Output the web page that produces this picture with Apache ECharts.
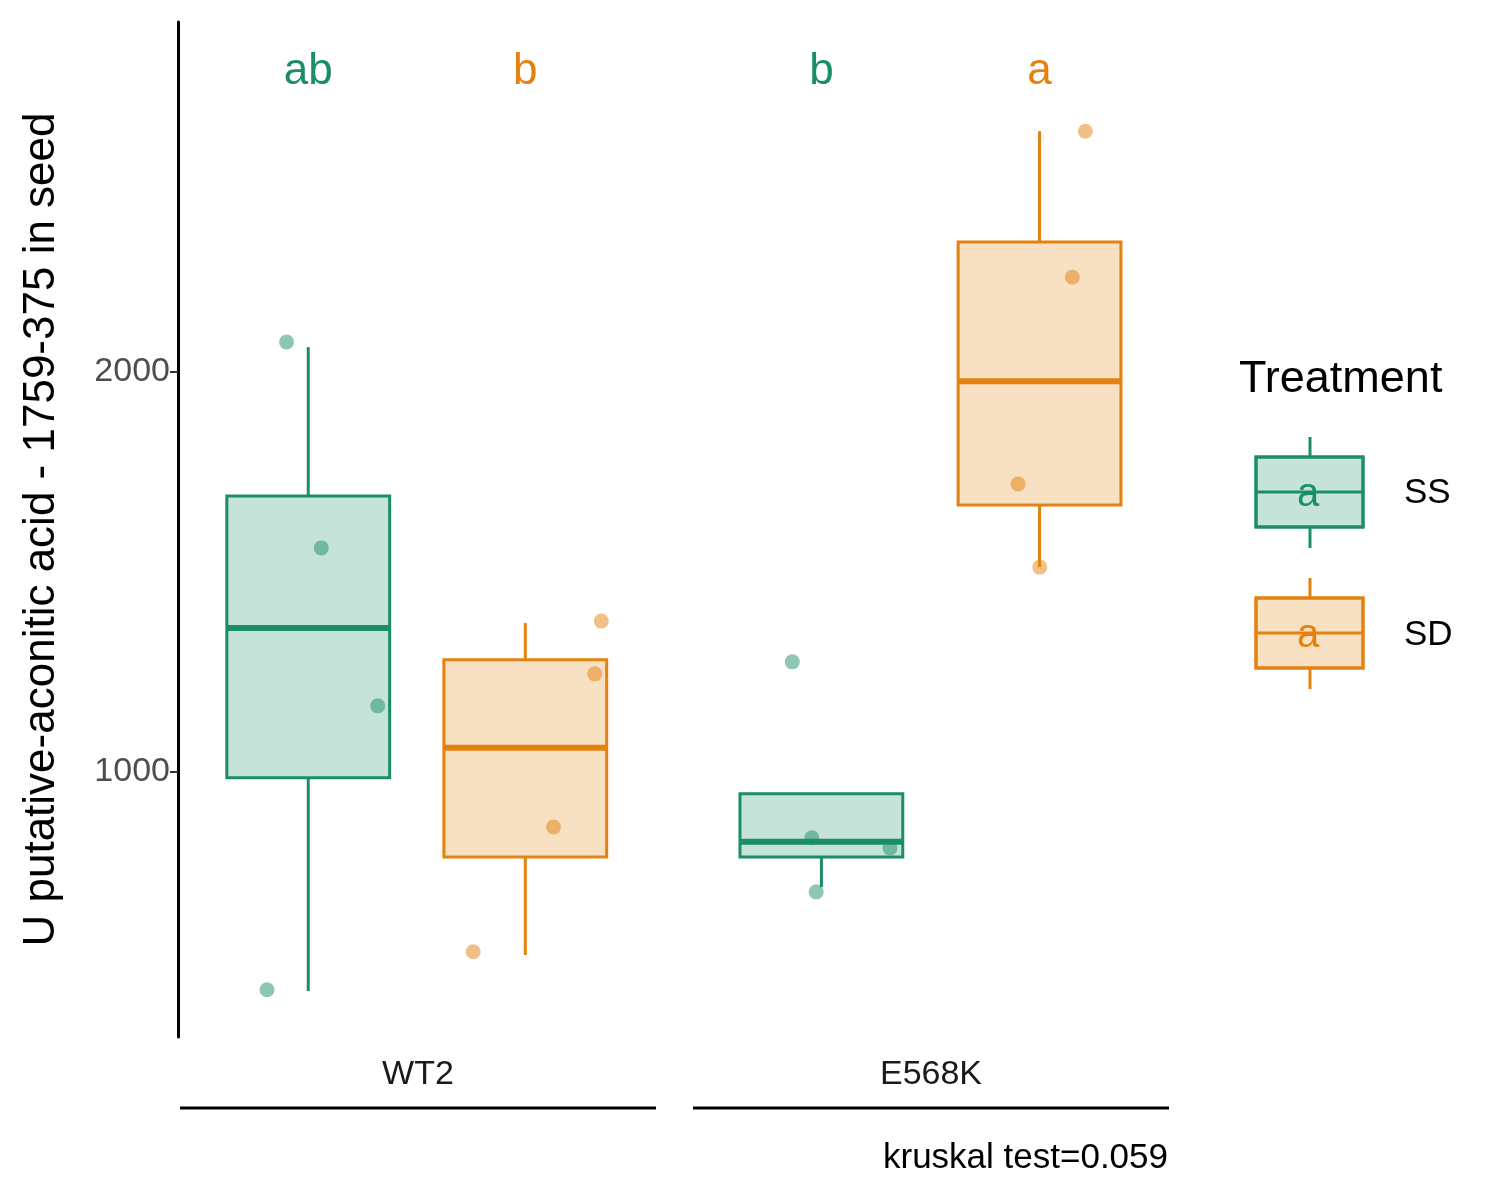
<!DOCTYPE html>
<html><head><meta charset="utf-8">
<script src="https://cdn.jsdelivr.net/npm/echarts@6/dist/echarts.min.js"></script>
<style>body{margin:0}#c{width:1500px;height:1200px}</style></head>
<body><div id="c"></div>
<script>
// box positions on x (value axis) and stats [low, q1, median, q3, high]
var boxX = [1, 2, 3.364, 4.369];
var boxTreat = ['SS', 'SD', 'SS', 'SD'];
var boxStats = [
  [452, 985, 1360, 1690, 2062],
  [542, 787, 1060, 1280, 1372],
  [712, 787, 825, 945, 945],
  [1512, 1667, 1977, 2325, 2602]
];
var ssPoints = [[0.90, 2075], [1.06, 1560], [1.32, 1165], [0.81, 455], [3.23, 1275], [3.32, 835], [3.68, 810], [3.34, 700]];
var sdPoints = [[2.35, 1377], [2.32, 1245], [2.13, 862], [1.76, 550], [4.58, 2602], [4.52, 2237], [4.27, 1720], [4.37, 1512]];
var letters = ['ab', 'b', 'b', 'a'];
var groups = ['WT2', 'E568K'];
var yTicks = [1000, 2000];

var col = {SS: '#1B8E67', SD: '#E3820F'};
var fill = {SS: 'rgba(27,142,103,0.25)', SD: 'rgba(227,130,15,0.25)'};
var FF = 'Liberation Sans';

var boxData = boxX.map(function (x, i) { return [x].concat(boxStats[i]).concat([i]); });

var chart = echarts.init(document.getElementById('c'));
chart.setOption({
  animation: false,
  grid: {left: 178, right: 330, top: 22, bottom: 163},
  xAxis: {type: 'value', min: 0.4, max: 4.97, show: false},
  yAxis: {
    type: 'value', min: 337, max: 2875,
    axisLine: {show: true, lineStyle: {color: '#000', width: 3}},
    axisTick: {show: true, length: 8, customValues: yTicks, lineStyle: {color: '#333', width: 2}},
    axisLabel: {color: '#4d4d4d', fontSize: 34, fontFamily: FF, customValues: yTicks,
      formatter: function (v) { return String(v); }},
    splitLine: {show: false},
    name: 'U putative-aconitic acid - 1759-375 in seed',
    nameLocation: 'middle', nameGap: 114,
    nameTextStyle: {fontSize: 44, color: '#000', fontFamily: FF}
  },
  series: [
    {
      type: 'custom', data: boxData, z: 2,
      renderItem: function (params, api) {
        var i = api.value(6), t = boxTreat[i], hw = 0.375;
        var x = api.value(0);
        var p = function (dx, v) { return api.coord([x + dx, v]); };
        var lo = p(0, api.value(1)), q1 = p(-hw, api.value(2)), q3 = p(hw, api.value(4));
        var hi = p(0, api.value(5));
        var ls = {stroke: col[t], lineWidth: 3};
        var med1 = p(-hw, api.value(3)), med2 = p(hw, api.value(3));
        var lab = p(0, 2750);
        return {type: 'group', children: [
          {type: 'line', shape: {x1: lo[0], y1: lo[1], x2: lo[0], y2: q1[1]}, style: ls},
          {type: 'line', shape: {x1: hi[0], y1: hi[1], x2: hi[0], y2: q3[1]}, style: ls},
          {type: 'rect', shape: {x: q1[0], y: q3[1], width: q3[0] - q1[0], height: q1[1] - q3[1]},
            style: {fill: fill[t], stroke: col[t], lineWidth: 3}},
          {type: 'line', shape: {x1: med1[0], y1: med1[1], x2: med2[0], y2: med2[1]}, style: {stroke: col[t], lineWidth: 6}},
          {type: 'text', x: lab[0], y: lab[1], style: {text: letters[i], fill: col[t], fontSize: 44, fontFamily: FF,
            align: 'center', verticalAlign: 'middle'}}
        ]};
      }
    },
    {type: 'scatter', data: ssPoints, symbolSize: 15, itemStyle: {color: col.SS, opacity: 0.5}, z: 3},
    {type: 'scatter', data: sdPoints, symbolSize: 15, itemStyle: {color: col.SD, opacity: 0.5}, z: 3}
  ],
  graphic: [
    {type: 'text', x: 418, y: 1075, style: {text: groups[0], fontSize: 34, fontFamily: FF, fill: '#1a1a1a', align: 'center', verticalAlign: 'middle'}},
    {type: 'text', x: 931, y: 1075, style: {text: groups[1], fontSize: 34, fontFamily: FF, fill: '#1a1a1a', align: 'center', verticalAlign: 'middle'}},
    {type: 'line', shape: {x1: 180, y1: 1108, x2: 656, y2: 1108}, style: {stroke: '#000', lineWidth: 3}},
    {type: 'line', shape: {x1: 693, y1: 1108, x2: 1169, y2: 1108}, style: {stroke: '#000', lineWidth: 3}},
    {type: 'text', x: 1168, y: 1158, style: {text: 'kruskal test=0.059', fontSize: 35, fontFamily: FF, fill: '#000', align: 'right', verticalAlign: 'middle'}},
    {type: 'text', x: 1239, y: 380, style: {text: 'Treatment', fontSize: 45, fontFamily: FF, fill: '#000', verticalAlign: 'middle'}},
    // legend keys
    {type: 'group', x: 1256, y: 437, children: [
      {type: 'line', shape: {x1: 54, y1: 0, x2: 54, y2: 111}, style: {stroke: col.SS, lineWidth: 3}},
      {type: 'rect', shape: {x: 0, y: 20, width: 107, height: 70}, style: {fill: '#fff', stroke: col.SS, lineWidth: 3}},
      {type: 'rect', shape: {x: 0, y: 20, width: 107, height: 70}, style: {fill: fill.SS, stroke: col.SS, lineWidth: 3}},
      {type: 'line', shape: {x1: 0, y1: 55, x2: 107, y2: 55}, style: {stroke: col.SS, lineWidth: 3}},
      {type: 'text', x: 52, y: 58, style: {text: 'a', fontSize: 40, fontFamily: FF, fill: col.SS, align: 'center', verticalAlign: 'middle'}},
      {type: 'text', x: 148, y: 56, style: {text: 'SS', fontSize: 35, fontFamily: FF, fill: '#000', verticalAlign: 'middle'}}
    ]},
    {type: 'group', x: 1256, y: 578, children: [
      {type: 'line', shape: {x1: 54, y1: 0, x2: 54, y2: 111}, style: {stroke: col.SD, lineWidth: 3}},
      {type: 'rect', shape: {x: 0, y: 20, width: 107, height: 70}, style: {fill: '#fff', stroke: col.SD, lineWidth: 3}},
      {type: 'rect', shape: {x: 0, y: 20, width: 107, height: 70}, style: {fill: fill.SD, stroke: col.SD, lineWidth: 3}},
      {type: 'line', shape: {x1: 0, y1: 55, x2: 107, y2: 55}, style: {stroke: col.SD, lineWidth: 3}},
      {type: 'text', x: 52, y: 58, style: {text: 'a', fontSize: 40, fontFamily: FF, fill: col.SD, align: 'center', verticalAlign: 'middle'}},
      {type: 'text', x: 148, y: 57, style: {text: 'SD', fontSize: 35, fontFamily: FF, fill: '#000', verticalAlign: 'middle'}}
    ]}
  ]
});
</script></body></html>
